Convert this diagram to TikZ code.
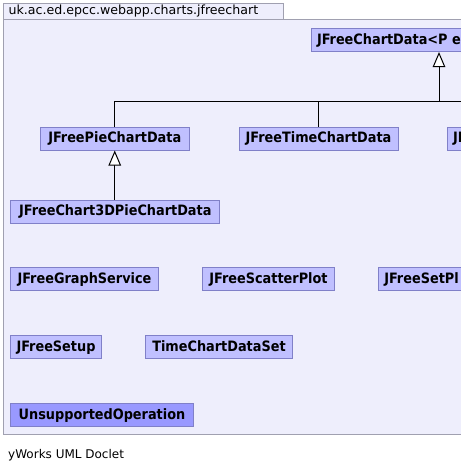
\documentclass[tikz,border=0pt]{standalone}
\usepackage{fontspec}
\setmainfont{DejaVu Sans}
\newfontfamily\dvbold{DejaVu Sans Condensed Bold}
\usetikzlibrary{arrows.meta}
\definecolor{bgc}{RGB}{238,238,252}
\definecolor{framec}{RGB}{160,160,176}
\definecolor{nodef}{RGB}{192,192,255}
\definecolor{nodeu}{RGB}{153,153,255}
\definecolor{nodeb}{RGB}{128,128,200}
\tikzset{
  cls/.style={draw=nodeb, fill=nodef, line width=1pt, font=\dvbold\fontsize{14.3}{17}\selectfont,
    minimum height=23, inner xsep=5.5, inner ysep=0, anchor=north west, text height=11, text depth=3},
  inh/.style={line width=1pt, -{Triangle[open, length=15, width=12.5, fill=white]}},
  link/.style={line width=1pt}
}
\begin{document}
\begin{tikzpicture}[x=1pt,y=-1pt]
\useasboundingbox (0,0) rectangle (461,472);
\clip (0,0) rectangle (461,472);
\draw[framec, fill=bgc, line width=1pt] (3,19) rectangle (475,434);
\draw[framec, fill=bgc, line width=1pt] (3,3) rectangle (283,19);
\node[anchor=west, inner sep=0, font=\fontsize{12.6}{15}\selectfont] (tab) at (8.5,11.5) {uk.ac.ed.epcc.webapp.charts.jfreechart};
\node[anchor=west, inner sep=0, font=\fontsize{12}{14}\selectfont] (foot) at (8,455) {yWorks UML Doclet};

\node[cls] (top) at (311,28) {JFreeChartData<P e};
\node[cls, minimum width=148.5] (pie) at (40,126.5) {JFreePieChartData};
\node[cls, minimum width=159] (time) at (238.5,126.5) {JFreeTimeChartData};
\node[cls, text width=40, align=left] (third) at (447,126.5) {JF};
\node[cls, minimum width=209] (pie3d) at (10.3,199.7) {JFreeChart3DPieChartData};
\node[cls, minimum width=147.4] (graph) at (10.3,267.3) {JFreeGraphService};
\node[cls, minimum width=131.4] (scatter) at (202.3,267.3) {JFreeScatterPlot};
\node[cls, text width=100, align=left] (setpl) at (378.3,267.3) {JFreeSetPl};
\node[cls, minimum width=90.4] (setup) at (10.3,335.3) {JFreeSetup};
\node[cls, minimum width=146.4] (tcds) at (145.3,335.3) {TimeChartDataSet};
\node[cls, fill=nodeu, minimum width=182.4] (unsup) at (10.3,403.3) {UnsupportedOperation};

\coordinate (jt) at (439,101);
\coordinate (jr) at (475,101);
\draw[link] (pie.north) |- (jt);
\draw[link] (time.north) |- (jt);
\draw[link] (jt) -- (jr);
\draw[inh] (jt) -- (jt |- top.south);
\draw[inh] (pie3d.north -| pie.south) -- (pie.south);
\end{tikzpicture}
\end{document}
